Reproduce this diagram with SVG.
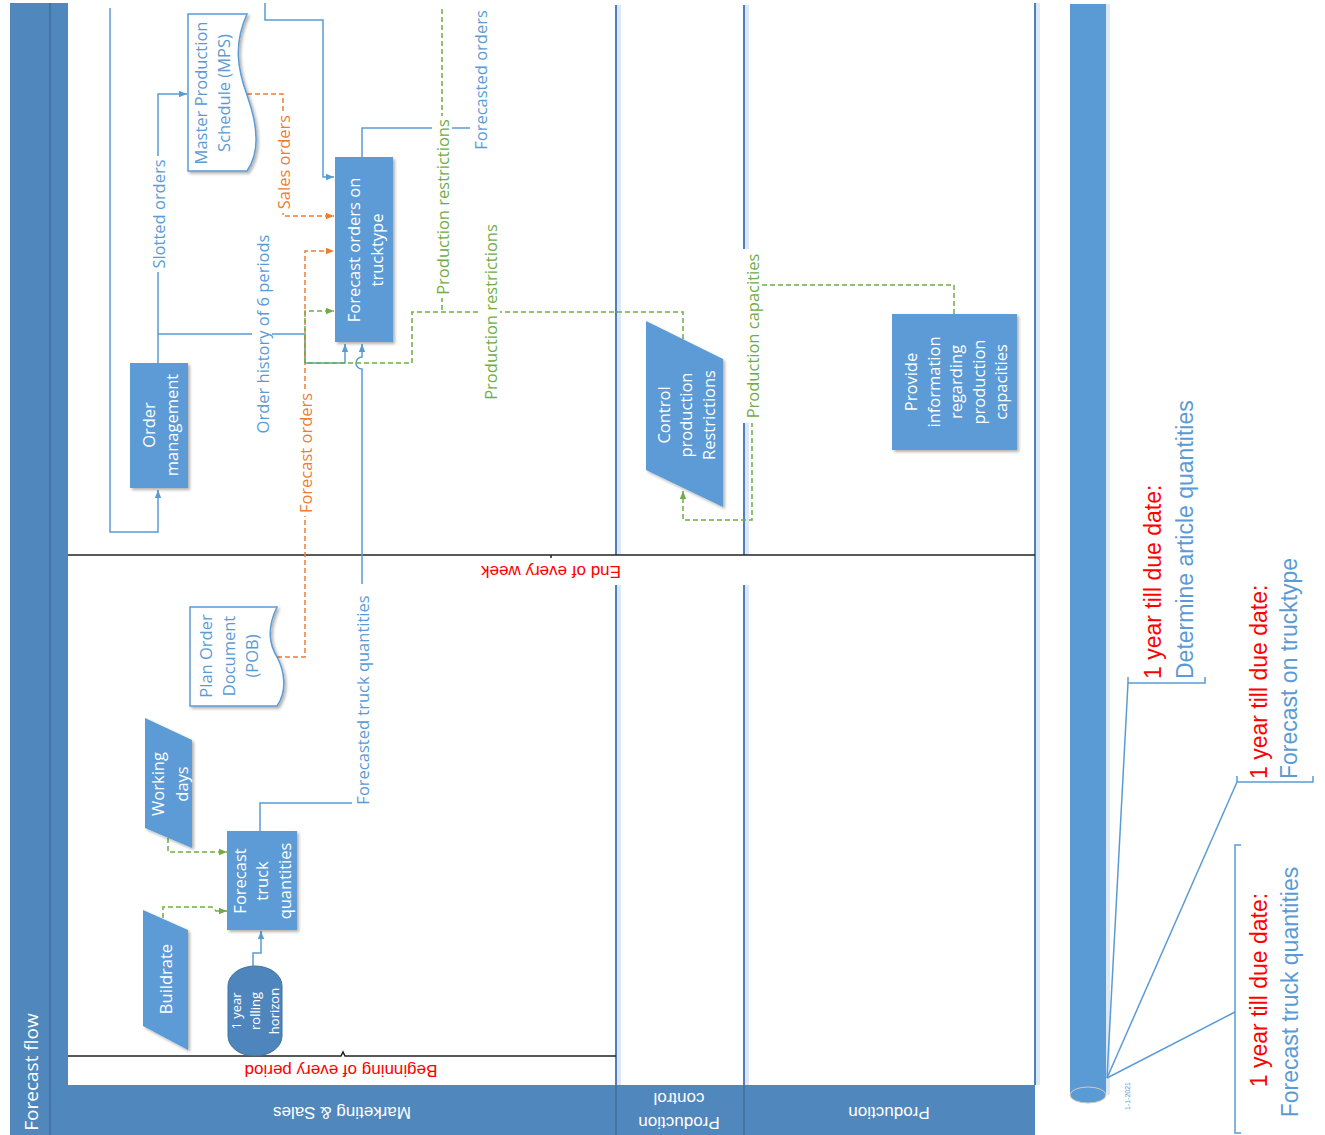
<svg xmlns="http://www.w3.org/2000/svg" width="1325" height="1135" viewBox="0 0 1325 1135">
<defs>
<style>
.hdr{fill:#5087bc}
.sep{stroke:#3d6c9b;stroke-width:1.5}
.lane{stroke:#4f80b6;stroke-width:2}
.laneSh{stroke:#dce8f5;stroke-width:4}
.phase{stroke:#222;stroke-width:1.5;fill:none}
.node{fill:#5b9bd5;filter:url(#sh)}
.doc{fill:#fff;stroke:#5b9bd5;stroke-width:1.5;filter:url(#sh)}
.nt{font-family:"Open Sans",sans-serif;font-size:16.5px;fill:#fff;text-anchor:middle;dominant-baseline:central}
.dt{font-family:"Open Sans",sans-serif;font-size:16.5px;fill:#5b9bd5;text-anchor:middle;dominant-baseline:central}
.b{stroke:#5b9bd5;stroke-width:1.5;fill:none}
.o{stroke:#ed7d31;stroke-width:1.5;fill:none;stroke-dasharray:5 3}
.g{stroke:#70ad47;stroke-width:1.5;fill:none;stroke-dasharray:5 3}
.lb{font-family:"Open Sans",sans-serif;font-size:16.5px;text-anchor:middle;dominant-baseline:central}
.bg{fill:#fff}
.red{font-family:"Liberation Sans",Arial,sans-serif;font-size:17px;fill:#ff0000;text-anchor:middle;dominant-baseline:central}
.ht{font-family:"Liberation Sans",Arial,sans-serif;font-size:17px;fill:#fff;text-anchor:middle;dominant-baseline:central}
.tl{font-family:"Liberation Sans",Arial,sans-serif;font-size:23px;dominant-baseline:central}
</style>
<filter id="sh" x="-20%" y="-20%" width="140%" height="140%">
<feDropShadow dx="2" dy="2" stdDeviation="1.5" flood-color="#000" flood-opacity="0.3"/>
</filter>
<marker id="ab" viewBox="0 0 10 10" refX="10" refY="5" markerWidth="8" markerHeight="8" markerUnits="userSpaceOnUse" orient="auto"><path d="M0,1 L10,5 L0,9 Z" fill="#5b9bd5"/></marker>
<marker id="ao" viewBox="0 0 10 10" refX="10" refY="5" markerWidth="8" markerHeight="8" markerUnits="userSpaceOnUse" orient="auto"><path d="M0,1 L10,5 L0,9 Z" fill="#ed7d31"/></marker>
<marker id="ag" viewBox="0 0 10 10" refX="10" refY="5" markerWidth="8" markerHeight="8" markerUnits="userSpaceOnUse" orient="auto"><path d="M0,1 L10,5 L0,9 Z" fill="#70ad47"/></marker>
</defs>

<rect x="0" y="0" width="1325" height="1135" fill="#fff"/>

<g id="pool">
<rect class="hdr" x="10" y="3" width="58" height="1132"/>
<line class="sep" x1="50" y1="3" x2="50" y2="1135"/>
<text transform="translate(31,1072) rotate(-90)" font-family="Open Sans, sans-serif" font-size="19" fill="#fff" text-anchor="middle" dominant-baseline="central">Forecast flow</text>
<rect class="hdr" x="68" y="1085" width="967" height="50"/>
<line class="sep" x1="616" y1="1085" x2="616" y2="1135"/>
<line class="sep" x1="744" y1="1085" x2="744" y2="1135"/>
<text class="ht" transform="translate(342,1112) rotate(180)">Marketing &amp; Sales</text>
<text class="ht" transform="translate(679,1111) rotate(180)"><tspan x="0" y="-12">Production</tspan><tspan x="0" y="12">control</tspan></text>
<text class="ht" transform="translate(889,1112) rotate(180)">Production</text>
<g id="lanes">
<line class="laneSh" x1="619" y1="5" x2="619" y2="555"/>
<line class="laneSh" x1="619" y1="585" x2="619" y2="1085"/>
<line class="laneSh" x1="747" y1="5" x2="747" y2="555"/>
<line class="laneSh" x1="747" y1="585" x2="747" y2="1085"/>
<line class="laneSh" x1="1038" y1="3" x2="1038" y2="1085"/>
<line class="lane" x1="616" y1="5" x2="616" y2="555"/>
<line class="lane" x1="616" y1="585" x2="616" y2="1085"/>
<line class="lane" x1="744" y1="5" x2="744" y2="555"/>
<line class="lane" x1="744" y1="585" x2="744" y2="1085"/>
<line class="lane" x1="1035" y1="3" x2="1035" y2="1085"/>
</g>
<g id="phases">
<path class="phase" d="M68,555 H1035"/>
<path class="phase" d="M551,555 v3" stroke-width="2"/>
<path class="phase" d="M68,1056 H341 l2,-4 l2,4 H616"/>
<text class="red" transform="translate(551,571) rotate(180)">End of every week</text>
<text class="red" transform="translate(341,1070) rotate(180)">Beginning of every period</text>
</g>
</g>

<g id="connectors">
<path class="b" d="M110,8 V532 H158 V490" marker-end="url(#ab)"/>
<path class="b" d="M158,363 V94 H187" marker-end="url(#ab)"/>
<path class="b" d="M158,334 H305 V363 H345 V344" marker-end="url(#ab)"/>
<path class="b" d="M265,3 V20 H323 V177 H334" marker-end="url(#ab)"/>
<path class="b" d="M362,157 V128 H470"/>
<path class="b" d="M260,831 V803 H362 V369 A6,6 0 0 1 362,357 V344" marker-end="url(#ab)"/>
<path class="b" d="M253,967 V953 H261 V931" marker-end="url(#ab)"/>
<path class="o" d="M247,94 H283 V216 H334" marker-end="url(#ao)"/>
<path class="o" d="M277,657 H305 V251 H334" marker-end="url(#ao)"/>
<path class="g" d="M683,339 V312 H412 V363 H305 V311 H334" marker-end="url(#ag)"/>
<path class="g" d="M442,9 V312"/>
<path class="g" d="M954,314 V285 H752 V520 H683 V491" marker-end="url(#ag)"/>
<path class="g" d="M163,918 V907 H212 L216,911 H227" marker-end="url(#ag)"/>
<path class="g" d="M168,838 V852 H227" marker-end="url(#ag)"/>

<rect class="bg" x="148" y="156" width="20" height="116"/>
<text class="lb" fill="#5b9bd5" transform="translate(158,214) rotate(-90)">Slotted orders</text>
<rect class="bg" x="252" y="230" width="20" height="209"/>
<text class="lb" fill="#5b9bd5" transform="translate(262,334) rotate(-90)">Order history of 6 periods</text>
<rect class="bg" x="273" y="111" width="20" height="102"/>
<text class="lb" fill="#ed7d31" transform="translate(283,162) rotate(-90)">Sales orders</text>
<rect class="bg" x="295" y="390" width="20" height="126"/>
<text class="lb" fill="#ed7d31" transform="translate(305,453) rotate(-90)">Forecast orders</text>
<rect class="bg" x="432" y="116" width="20" height="182"/>
<text class="lb" fill="#70ad47" transform="translate(442,207) rotate(-90)">Production restrictions</text>
<rect class="bg" x="480" y="221" width="20" height="182"/>
<text class="lb" fill="#70ad47" transform="translate(490,312) rotate(-90)">Production restrictions</text>
<text class="lb" fill="#5b9bd5" transform="translate(480,80) rotate(-90)">Forecasted orders</text>
<rect class="bg" x="352" y="584" width="20" height="232"/>
<text class="lb" fill="#5b9bd5" transform="translate(362,700) rotate(-90)">Forecasted truck quantities</text>
<rect class="bg" x="742" y="249" width="20" height="174"/>
<text class="lb" fill="#70ad47" transform="translate(752,336) rotate(-90)">Production capacities</text>
</g>

<g id="order-management">
<rect class="node" x="130" y="363" width="58" height="125"/>
<text class="nt" transform="translate(159,425) rotate(-90)"><tspan x="0" y="-11.5">Order</tspan><tspan x="0" y="11.5">management</tspan></text>
</g>
<g id="mps">
<path class="doc" d="M188,14 H247 C233,45 238,70 247,95 C256,120 262,150 247,171 H188 Z"/>
<text class="dt" transform="translate(211.5,93) rotate(-90)"><tspan x="0" y="-11.5">Master Production</tspan><tspan x="0" y="11.5">Schedule (MPS)</tspan></text>
</g>
<g id="forecast-orders-trucktype">
<rect class="node" x="335" y="157" width="58" height="185"/>
<text class="nt" transform="translate(364,250) rotate(-90)"><tspan x="0" y="-11.5">Forecast orders on</tspan><tspan x="0" y="11.5">trucktype</tspan></text>
</g>
<g id="control-production">
<path class="node" d="M646,321 L723,359 L723,507 L646,470 Z"/>
<text class="nt" transform="translate(685,415) rotate(-90)"><tspan x="0" y="-22.5">Control</tspan><tspan x="0" y="0">production</tspan><tspan x="0" y="22.5">Restrictions</tspan></text>
</g>
<g id="provide-info">
<rect class="node" x="892" y="314" width="125" height="136"/>
<text class="nt" transform="translate(955,382) rotate(-90)"><tspan x="0" y="-45">Provide</tspan><tspan x="0" y="-22.5">information</tspan><tspan x="0" y="0">regarding</tspan><tspan x="0" y="22.5">production</tspan><tspan x="0" y="45">capacities</tspan></text>
</g>
<g id="plan-order-document">
<path class="doc" d="M190,607 H277 C266,630 270,645 277,657 C284,670 288,690 277,706 H190 Z"/>
<text class="dt" transform="translate(228,656) rotate(-90)"><tspan x="0" y="-23">Plan Order</tspan><tspan x="0" y="0">Document</tspan><tspan x="0" y="23">(POB)</tspan></text>
</g>
<g id="working-days">
<path class="node" d="M145,718 L192,740 L192,848 L145,828 Z"/>
<text class="nt" transform="translate(169,784) rotate(-90)"><tspan x="0" y="-12">Working</tspan><tspan x="0" y="12">days</tspan></text>
</g>
<g id="buildrate">
<path class="node" d="M143,910 L188,930 L188,1050 L143,1026 Z"/>
<text class="nt" transform="translate(165,979) rotate(-90)">Buildrate</text>
</g>
<g id="forecast-truck-quantities">
<rect class="node" x="227" y="831" width="70" height="99"/>
<text class="nt" transform="translate(261,881) rotate(-90)"><tspan x="0" y="-22.5">Forecast</tspan><tspan x="0" y="0">truck</tspan><tspan x="0" y="22.5">quantities</tspan></text>
</g>
<g id="rolling-horizon">
<rect x="228" y="966" width="54" height="90" rx="27" ry="20" fill="#4e85bd" stroke="#41719c" stroke-width="1"/>
<text class="nt" style="font-size:13px" transform="translate(255,1011) rotate(-90)"><tspan x="0" y="-19">1 year</tspan><tspan x="0" y="0">rolling</tspan><tspan x="0" y="19">horizon</tspan></text>
</g>

<g id="timeline">
<rect x="1106" y="4" width="4" height="1091" fill="#dce8f5"/>
<rect x="1070" y="4" width="36" height="1091" fill="#5b9bd5"/>
<ellipse cx="1088" cy="1095" rx="18" ry="8" fill="#5b9bd5" stroke="#d3cab8" stroke-width="1"/>
<text transform="translate(1127,1096) rotate(-90)" font-family="Liberation Sans, Arial, sans-serif" font-size="7" fill="#5b9bd5" text-anchor="middle" dominant-baseline="central">1-1-2021</text>
<path class="b" d="M1107,1078 L1128,683"/>
<path class="b" d="M1107,1078 L1237,782"/>
<path class="b" d="M1107,1078 L1235,1012"/>
<path class="b" d="M1128,677 V683 H1205 V677"/>
<path class="b" d="M1237,776 V782 H1313 V776"/>
<path class="b" d="M1241,845 H1235 V1133 H1241"/>
<text class="tl" fill="#ff0000" transform="translate(1153,679) rotate(-90)">1 year till due date:</text>
<text class="tl" fill="#5b9bd5" transform="translate(1185,679) rotate(-90)">Determine article quantities</text>
<text class="tl" fill="#ff0000" transform="translate(1259,779) rotate(-90)">1 year till due date:</text>
<text class="tl" fill="#5b9bd5" transform="translate(1289,779) rotate(-90)">Forecast on trucktype</text>
<text class="tl" fill="#ff0000" text-anchor="middle" transform="translate(1259,990) rotate(-90)">1 year till due date:</text>
<text class="tl" fill="#5b9bd5" text-anchor="middle" transform="translate(1290,992) rotate(-90)">Forecast truck quantities</text>
</g>
</svg>
